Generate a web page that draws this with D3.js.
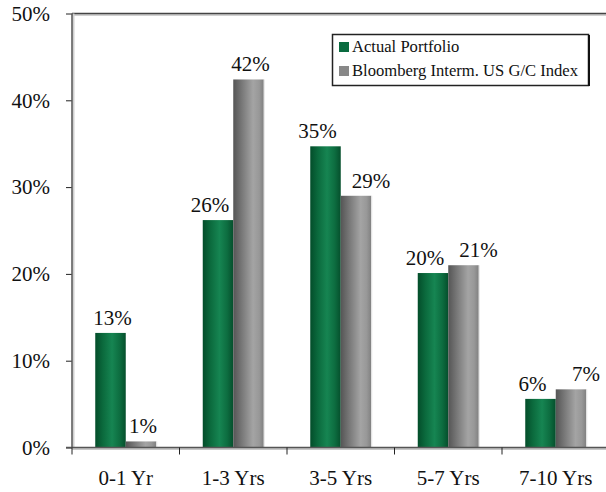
<!DOCTYPE html>
<html><head><meta charset="utf-8">
<script src="https://cdn.jsdelivr.net/npm/d3@7"></script>
<style>body{margin:0;background:#fff;}svg{display:block;}</style>
</head><body>
<script>
const categories = ["0-1 Yr", "1-3 Yrs", "3-5 Yrs", "5-7 Yrs", "7-10 Yrs"];
const seriesNames = ["Actual Portfolio", "Bloomberg Interm. US G/C Index"];
const portfolio = [13.2, 26.2, 34.7, 20.1, 5.6];
const index = [0.7, 42.4, 29.0, 21.0, 6.7];
const portfolioLabels = ["13%", "26%", "35%", "20%", "6%"];
const indexLabels = ["1%", "42%", "29%", "21%", "7%"];
const yTicks = [0, 10, 20, 30, 40, 50];

const W = 606, H = 492;
const FONT = "'Liberation Serif', 'DejaVu Serif', serif";
const svg = d3.select("body").append("svg").attr("width", W).attr("height", H);
const defs = svg.append("defs");

const gGreen = defs.append("linearGradient").attr("id", "gGreen").attr("x1", "0").attr("x2", "1").attr("y1", "0").attr("y2", "0");
[[0, "#034d2a"], [0.25, "#0b6a3d"], [0.55, "#168552"], [0.8, "#0d6d40"], [1, "#054f2c"]].forEach(s => gGreen.append("stop").attr("offset", s[0]).attr("stop-color", s[1]));
const gGray = defs.append("linearGradient").attr("id", "gGray").attr("x1", "0").attr("x2", "1").attr("y1", "0").attr("y2", "0");
[[0, "#555555"], [0.3, "#7a7a7a"], [0.65, "#a4a4a4"], [0.85, "#989898"], [1, "#808080"]].forEach(s => gGray.append("stop").attr("offset", s[0]).attr("stop-color", s[1]));

const y = d3.scaleLinear().domain([0, 50]).range([447.5, 13.5]);
const x = d3.scaleBand().domain(categories).range([72, 609.5]).paddingInner(0).paddingOuter(0);
const barW = 30.5;

// frame top line
svg.append("line").attr("x1", 72).attr("x2", W).attr("y1", y(50) + 1.5).attr("y2", y(50) + 1.5).attr("stroke", "#d0d0d0").attr("stroke-width", 2);
svg.append("line").attr("x1", 72).attr("x2", W).attr("y1", y(50)).attr("y2", y(50)).attr("stroke", "#444").attr("stroke-width", 1.5);

// left axis
const yAxis = d3.axisLeft(y).tickValues(yTicks).tickFormat(d => d + "%").tickSize(6).tickPadding(16);
const ga = svg.append("g").attr("transform", "translate(72,0)").call(yAxis);
ga.select(".domain").remove();
ga.selectAll(".tick line").attr("stroke", "#222");
ga.selectAll(".tick text").attr("font-family", FONT).attr("font-size", 21).attr("fill", "#111");
svg.append("line").attr("x1", 73.5).attr("x2", 73.5).attr("y1", y(50)).attr("y2", y(0)).attr("stroke", "#d0d0d0").attr("stroke-width", 2);
svg.append("line").attr("x1", 72).attr("x2", 72).attr("y1", y(50)).attr("y2", y(0)).attr("stroke", "#555").attr("stroke-width", 1.5);

// label nudges: labels pushed apart unless the neighbouring bar is tiny / much taller
function nudge(i, side) {
  if (side === 0) return Math.min(portfolio[i], index[i]) < 2 ? 0 : -10;
  return (index[i] - portfolio[i] > 10 || index[i] < 2) ? 0 : 13;
}

// bars
const groups = svg.append("g").selectAll("g").data(categories).join("g")
  .attr("transform", d => `translate(${x(d) + x.bandwidth() / 2},0)`);
groups.append("rect").attr("x", -barW).attr("width", barW)
  .attr("y", (d, i) => y(portfolio[i])).attr("height", (d, i) => y(0) - y(portfolio[i]))
  .attr("fill", "url(#gGreen)");
groups.append("rect").attr("x", 0).attr("width", barW)
  .attr("y", (d, i) => y(index[i])).attr("height", (d, i) => y(0) - y(index[i]))
  .attr("fill", "url(#gGray)");
groups.append("line").attr("x1", barW + 0.5).attr("x2", barW + 0.5)
  .attr("y1", (d, i) => y(index[i])).attr("y2", y(0)).attr("stroke", "#e4e4e4").attr("stroke-width", 1);
groups.append("text").attr("x", (d, i) => -barW / 2 + 2 + nudge(i, 0)).attr("y", (d, i) => y(portfolio[i]) - 8)
  .attr("text-anchor", "middle").attr("font-family", FONT).attr("font-size", 21).attr("fill", "#111")
  .text((d, i) => portfolioLabels[i]);
groups.append("text").attr("x", (d, i) => barW / 2 + 2 + nudge(i, 1)).attr("y", (d, i) => y(index[i]) - 8)
  .attr("text-anchor", "middle").attr("font-family", FONT).attr("font-size", 21).attr("fill", "#111")
  .text((d, i) => indexLabels[i]);

// bottom axis
svg.append("line").attr("x1", 72).attr("x2", W).attr("y1", y(0) + 1.5).attr("y2", y(0) + 1.5).attr("stroke", "#c8c8c8").attr("stroke-width", 2);
svg.append("line").attr("x1", 66).attr("x2", W).attr("y1", y(0)).attr("y2", y(0)).attr("stroke", "#555").attr("stroke-width", 1.5);
svg.append("g").selectAll("line").data(categories).join("line")
  .attr("x1", d => x(d)).attr("x2", d => x(d)).attr("y1", y(0)).attr("y2", y(0) + 7)
  .attr("stroke", "#222").attr("stroke-width", 1);
svg.append("g").selectAll("text").data(categories).join("text")
  .attr("x", d => x(d) + x.bandwidth() / 2).attr("y", 485)
  .attr("text-anchor", "middle").attr("font-family", FONT).attr("font-size", 21).attr("fill", "#111")
  .text(d => d);

// legend
const lg = svg.append("g");
lg.append("rect").attr("x", 332.5).attr("y", 34.5).attr("width", 256).attr("height", 51).attr("fill", "none").attr("stroke", "#222").attr("stroke-width", 1.5);
lg.append("line").attr("x1", 589).attr("x2", 589).attr("y1", 35).attr("y2", 86).attr("stroke", "#111").attr("stroke-width", 2);
const swatches = ["#0a6b3f", "#888888"];
seriesNames.forEach((n, i) => {
  lg.append("rect").attr("x", 339).attr("y", 42 + i * 24).attr("width", 10).attr("height", 10).attr("fill", swatches[i]);
  lg.append("text").attr("x", 352).attr("y", 52 + i * 24).attr("font-family", FONT).attr("font-size", 16.6).attr("fill", "#111").text(n);
});
</script>
</body></html>
